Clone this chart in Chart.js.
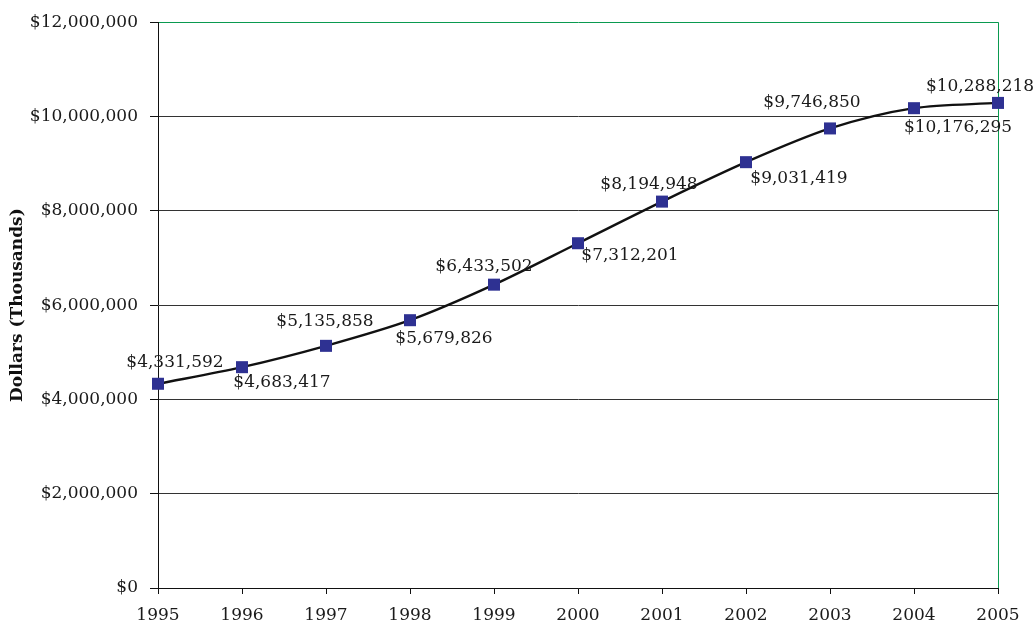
<!DOCTYPE html>
<html>
<head>
<meta charset="utf-8">
<script src="https://cdn.jsdelivr.net/npm/chart.js@4/dist/chart.umd.min.js"></script>
<style>
  body { margin: 0; background: #fff; }
  canvas { display: block; }
</style>
</head>
<body>
<canvas id="chart" width="1033" height="625"></canvas>
<script>
let years = ["1995", "1996", "1997", "1998", "1999", "2000", "2001", "2002", "2003", "2004", "2005"];
let dollars = [4331592, 4683417, 5135858, 5679826, 6433502, 7312201, 8194948, 9031419, 9746850, 10176295, 10288218];

// where each value label sits relative to its point (px)
let labelShift = [[17, -21], [40, 15], [-1, -24], [34, 18], [-10, -18], [52, 12], [-13, -17], [53, 16], [-18, -26], [44, 19], [-18, -16]];

let serif = "'DejaVu Serif', 'Liberation Serif', serif";
let green = "#0a9a50";

function money(v) {
    return "$" + v.toLocaleString("en-US");
}

let valueLabels = {
    id: "valueLabels",
    afterDatasetsDraw(chart) {
        let ctx = chart.ctx;
        let meta = chart.getDatasetMeta(0);
        ctx.save();
        ctx.font = "17px " + serif;
        ctx.fillStyle = "#1a1a1a";
        ctx.textAlign = "center";
        ctx.textBaseline = "middle";
        meta.data.forEach(function (pt, i) {
            ctx.fillText(money(dollars[i]), pt.x + labelShift[i][0], pt.y + labelShift[i][1]);
        });
        ctx.restore();
    }
};

let myChart = document.getElementById("chart").getContext("2d");
let display = new Chart(myChart, {
    type: "line",
    data: {
        labels: years,
        datasets: [{
            data: dollars,
            borderColor: "#111",
            borderWidth: 2.4,
            tension: 0.3,
            pointStyle: "rect",
            pointRadius: 8.5,
            pointBackgroundColor: "#2e3192",
            pointBorderColor: "#2e3192",
            pointBorderWidth: 0,
            clip: false
        }]
    },
    options: {
        responsive: false,
        animation: false,
        layout: { padding: { left: 0, right: 35, top: 22, bottom: 0 } },
        plugins: {
            legend: { display: false },
            tooltip: { enabled: false }
        },
        scales: {
            x: {
                offset: false,
                afterFit: function (scale) { scale.height = 37; },
                border: { color: "#111", width: 1 },
                grid: {
                    drawOnChartArea: true,
                    tickLength: 6,
                    tickColor: "#111",
                    color: function (c) { return c.index === years.length - 1 ? green : "rgba(0,0,0,0)"; }
                },
                ticks: {
                    padding: 11,
                    maxRotation: 0,
                    color: "#1a1a1a",
                    font: { family: serif, size: 17 }
                }
            },
            y: {
                min: 0,
                max: 12000000,
                afterFit: function (scale) { scale.width = 158; },
                border: { color: "#111", width: 1 },
                grid: {
                    tickLength: 8,
                    tickColor: "#111",
                    color: function (c) { return c.tick && c.tick.value === 12000000 ? green : "#333"; }
                },
                ticks: {
                    stepSize: 2000000,
                    padding: 12,
                    color: "#1a1a1a",
                    font: { family: serif, size: 17 }
                    ,
                    callback: function (v) { return money(v); }
                },
                title: {
                    display: true,
                    text: "Dollars (Thousands)",
                    color: "#111",
                    font: { family: serif, size: 17, weight: "bold" },
                    padding: { top: 7, bottom: 0 }
                }
            }
        }
    },
    plugins: [valueLabels]
});
</script>
</body>
</html>
